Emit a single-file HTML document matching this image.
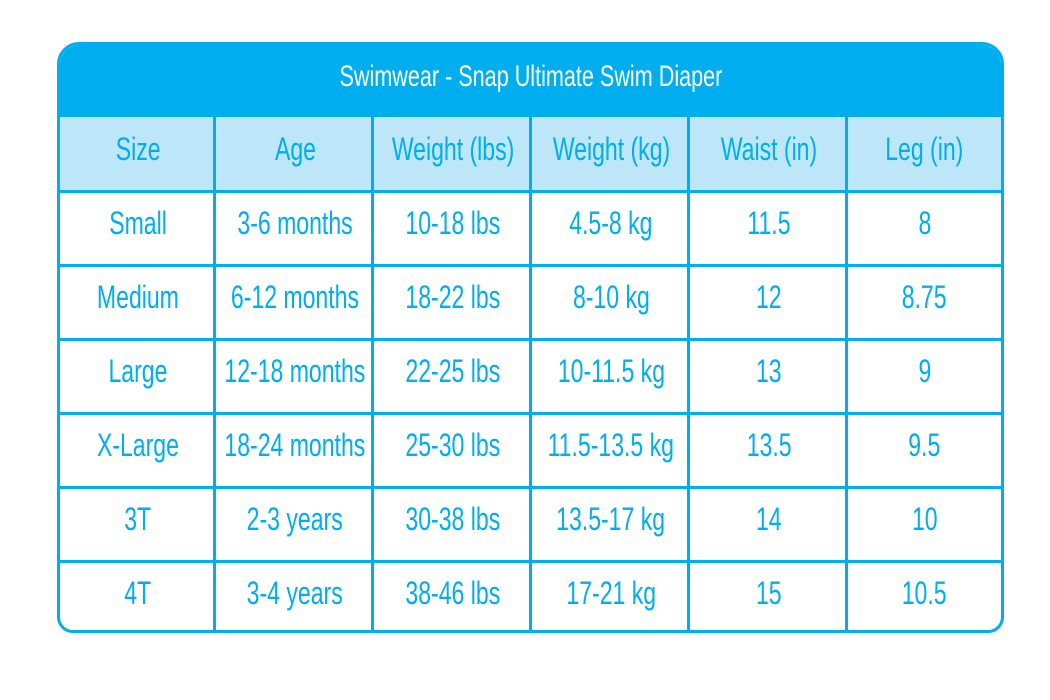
<!DOCTYPE html>
<html><head><meta charset="utf-8"><style>
body{margin:0;width:1050px;height:700px;background:#fff;position:relative;overflow:hidden;font-family:"Liberation Sans",sans-serif}
#t{position:absolute;left:57px;top:42px;width:941px;height:585px;border:3px solid #00aeef;border-radius:22px 22px 16px 16px;overflow:hidden}
.c{position:absolute;display:flex;align-items:center;justify-content:center;color:#00aeef;font-size:32px}
.c span{display:inline-block;transform:scaleX(0.72);white-space:nowrap;position:relative;top:-5px}
.h{position:absolute;left:0;right:0;height:3px;background:#00aeef}
.v{position:absolute;top:72px;bottom:0;width:3px;background:#00aeef}
</style></head><body>
<div id="t">
<div style="position:absolute;left:0;top:0;width:100%;height:72px;background:#00aeef"></div>
<div style="position:absolute;left:0;top:72px;width:100%;height:74px;background:#bde6f9"></div>
<div class="c" style="left:0;top:0;width:941px;height:70px;color:#fff;font-size:30px"><span style="top:-3px">Swimwear - Snap Ultimate Swim Diaper</span></div>
<div class="h" style="top:145px"></div><div class="h" style="top:219px"></div><div class="h" style="top:293px"></div><div class="h" style="top:367px"></div><div class="h" style="top:441px"></div><div class="h" style="top:515px"></div>
<div class="v" style="left:153px"></div><div class="v" style="left:311px"></div><div class="v" style="left:469px"></div><div class="v" style="left:627px"></div><div class="v" style="left:785px"></div>
<div id="cells"></div>
</div>
<script>
var rows=[["Size","Age","Weight (lbs)","Weight (kg)","Waist (in)","Leg (in)"],
["Small","3-6 months","10-18 lbs","4.5-8 kg","11.5","8"],
["Medium","6-12 months","18-22 lbs","8-10 kg","12","8.75"],
["Large","12-18 months","22-25 lbs","10-11.5 kg","13","9"],
["X-Large","18-24 months","25-30 lbs","11.5-13.5 kg","13.5","9.5"],
["3T","2-3 years","30-38 lbs","13.5-17 kg","14","10"],
["4T","3-4 years","38-46 lbs","17-21 kg","15","10.5"]];
var xs=[0,156,314,472,630,788,941],h="";
rows.forEach(function(r,i){r.forEach(function(t,j){
h+='<div class="c" style="left:'+xs[j]+'px;width:'+(xs[j+1]-xs[j])+'px;top:'+(72+i*74)+'px;height:74px"><span>'+t+'</span></div>';});});
document.getElementById("cells").innerHTML=h;
</script>
</body></html>
